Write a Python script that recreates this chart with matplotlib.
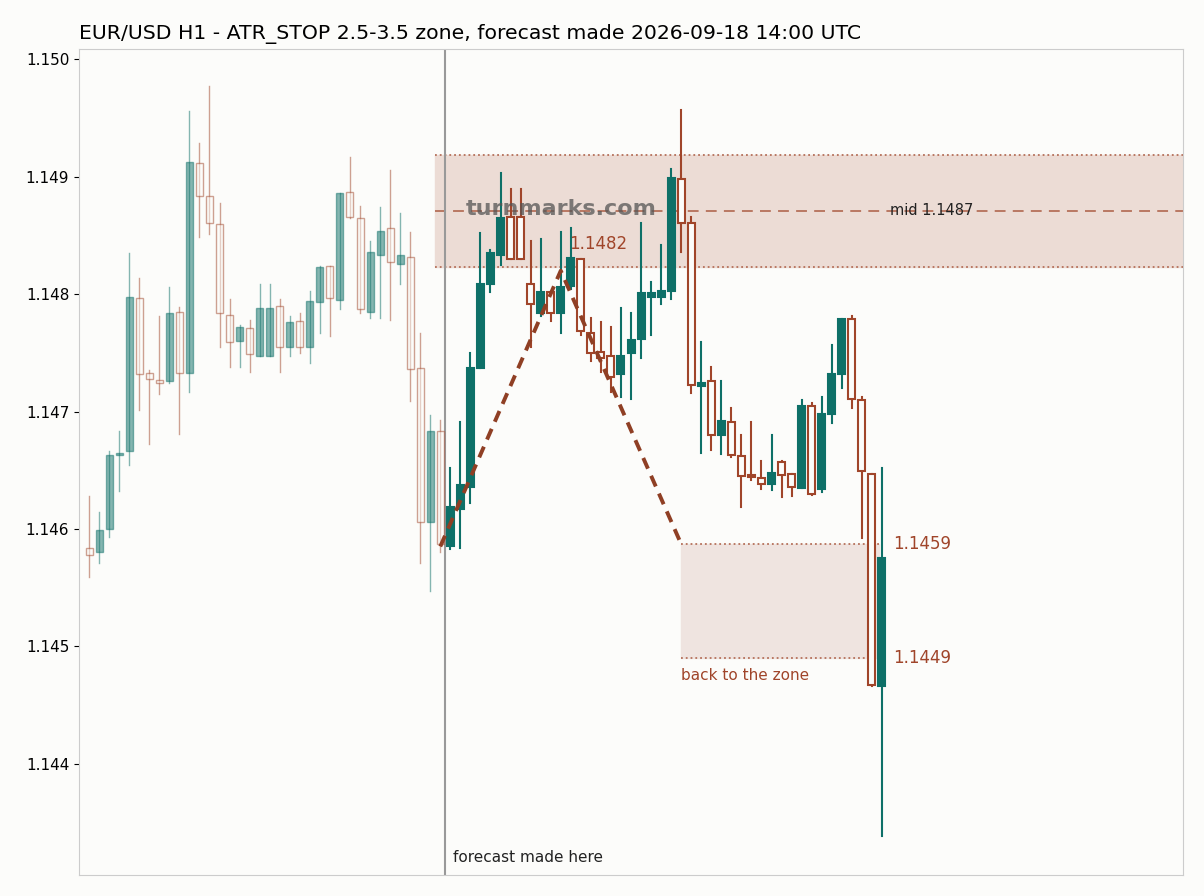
import matplotlib.pyplot as plt
from matplotlib.patches import Rectangle

# =========================
# OHLC (first 36 = history, rest = forecast window)
# =========================
opens = [1.14584, 1.14580, 1.14600, 1.14663, 1.14666, 1.14797, 1.14733, 1.14727, 1.14726, 1.14785,
         1.14733, 1.14912, 1.14884, 1.14860, 1.14782, 1.14760, 1.14771, 1.14747, 1.14747, 1.14790,
         1.14755, 1.14777, 1.14755, 1.14793, 1.14824, 1.14795, 1.14887, 1.14865, 1.14785, 1.14833,
         1.14856, 1.14826, 1.14832, 1.14737, 1.14606, 1.14683,
         1.14585, 1.14617, 1.14636, 1.14737, 1.14809, 1.14833, 1.14866, 1.14866, 1.14809, 1.14784,
         1.14802, 1.14784, 1.14807, 1.14830, 1.14767, 1.14751, 1.14747, 1.14732, 1.14750, 1.14762,
         1.14798, 1.14798, 1.14803, 1.14898, 1.14861, 1.14722, 1.14726, 1.14680, 1.14691, 1.14662,
         1.14646, 1.14643, 1.14638, 1.14657, 1.14647, 1.14635, 1.14705, 1.14634, 1.14698, 1.14732,
         1.14779, 1.14710, 1.14647, 1.14466]
highs = [1.14628, 1.14614, 1.14666, 1.14683, 1.14835, 1.14814, 1.14735, 1.14781, 1.14806, 1.14789,
         1.14956, 1.14929, 1.14977, 1.14878, 1.14796, 1.14774, 1.14778, 1.14809, 1.14809, 1.14796,
         1.14781, 1.14784, 1.14803, 1.14824, 1.14824, 1.14886, 1.14917, 1.14875, 1.14845, 1.14874,
         1.14906, 1.14869, 1.14853, 1.14767, 1.14697, 1.14693,
         1.14652, 1.14691, 1.14750, 1.14852, 1.14838, 1.14903, 1.14890, 1.14890, 1.14845, 1.14847,
         1.14802, 1.14853, 1.14856, 1.14830, 1.14780, 1.14776, 1.14772, 1.14788, 1.14784, 1.14861,
         1.14810, 1.14842, 1.14907, 1.14957, 1.14866, 1.14759, 1.14738, 1.14726, 1.14703, 1.14680,
         1.14691, 1.14658, 1.14680, 1.14658, 1.14647, 1.14710, 1.14707, 1.14712, 1.14757, 1.14779,
         1.14781, 1.14712, 1.14647, 1.14652]
lows = [1.14559, 1.14571, 1.14593, 1.14632, 1.14654, 1.14701, 1.14672, 1.14715, 1.14724, 1.14681,
        1.14717, 1.14849, 1.14851, 1.14755, 1.14738, 1.14738, 1.14734, 1.14747, 1.14747, 1.14734,
        1.14747, 1.14750, 1.14741, 1.14767, 1.14764, 1.14787, 1.14865, 1.14784, 1.14780, 1.14780,
        1.14778, 1.14809, 1.14709, 1.14571, 1.14547, 1.14580,
        1.14583, 1.14584, 1.14622, 1.14737, 1.14802, 1.14825, 1.14830, 1.14830, 1.14755, 1.14781,
        1.14777, 1.14767, 1.14804, 1.14765, 1.14743, 1.14734, 1.14717, 1.14712, 1.14711, 1.14746,
        1.14765, 1.14792, 1.14796, 1.14836, 1.14716, 1.14665, 1.14667, 1.14664, 1.14661, 1.14619,
        1.14642, 1.14634, 1.14633, 1.14627, 1.14628, 1.14635, 1.14629, 1.14631, 1.14690, 1.14720,
        1.14703, 1.14592, 1.14466, 1.14338]
closes = [1.14578, 1.14599, 1.14663, 1.14665, 1.14798, 1.14732, 1.14728, 1.14724, 1.14784, 1.14733,
          1.14913, 1.14884, 1.14861, 1.14784, 1.14759, 1.14772, 1.14749, 1.14788, 1.14788, 1.14755,
          1.14776, 1.14755, 1.14794, 1.14823, 1.14797, 1.14886, 1.14866, 1.14787, 1.14836, 1.14854,
          1.14827, 1.14833, 1.14736, 1.14606, 1.14683, 1.14587,
          1.14619, 1.14637, 1.14737, 1.14809, 1.14835, 1.14865, 1.14830, 1.14830, 1.14792, 1.14802,
          1.14784, 1.14806, 1.14831, 1.14769, 1.14750, 1.14746, 1.14729, 1.14747, 1.14761, 1.14801,
          1.14801, 1.14803, 1.14899, 1.14861, 1.14723, 1.14724, 1.14680, 1.14692, 1.14663, 1.14645,
          1.14644, 1.14638, 1.14648, 1.14646, 1.14636, 1.14705, 1.14630, 1.14698, 1.14732, 1.14779,
          1.14711, 1.14649, 1.14467, 1.14575]

n_hist = 36
zone_lo, zone_hi, zone_mid = 1.14823, 1.14919, 1.14871
back_lo, back_hi = 1.1449, 1.14587
path_idx = [35, 47, 59]
path_px = [1.14585, 1.1482, 1.14587]
yticks = [1.144, 1.145, 1.146, 1.147, 1.148, 1.149, 1.150]

teal = '#0e7068'
rust = '#a0452a'

fig = plt.figure(figsize=(12.04, 8.96), dpi=100, facecolor='#fcfcfa')
ax = fig.add_axes([0.0656, 0.0234, 0.917, 0.922], facecolor='#fcfcfa')

# zones
ax.fill_between([34.5, 109], zone_lo, zone_hi, color='#ecdcd5', zorder=0)
for yy in (zone_lo, zone_hi):
    ax.plot([34.5, 109], [yy, yy], ls=':', color='#b5705a', lw=1.3, zorder=1)
ax.plot([34.5, 109], [zone_mid, zone_mid], ls=(0, (6, 4)), color='#b5705a', lw=1.3, zorder=1)
ax.fill_between([59.0, 78.7], back_lo, back_hi, color='#efe4e0', zorder=0)
for yy in (back_lo, back_hi):
    ax.plot([59.0, 78.7], [yy, yy], ls=':', color='#b5705a', lw=1.3, zorder=1)

# candles
for i in range(len(opens)):
    o, h, l, c = opens[i], highs[i], lows[i], closes[i]
    a = 0.5 if i < n_hist else 1.0
    up = c >= o
    col = teal if up else rust
    lw = 1.0 if i < n_hist else 1.5
    ax.plot([i, i], [l, h], color=col, lw=lw, alpha=a, zorder=2)
    bot, top = min(o, c), max(o, c)
    hgt = max(top - bot, 0.000015)
    face = col if up else '#fcfcfa'
    ax.add_patch(Rectangle((i - 0.35, bot), 0.7, hgt, facecolor=face, edgecolor=col,
                           lw=lw, alpha=a, zorder=3))

# forecast path
ax.plot(path_idx, path_px, ls=(0, (3, 2)), color='#8f3f24', lw=2.8, zorder=4)
ax.axvline(35.5, color='#999999', lw=1.5, zorder=1)

ax.text(47.0, 1.14873, 'turnmarks.com', fontsize=16, fontweight='bold', color='#555555',
        alpha=0.75, ha='center', va='center', zorder=5)
ax.text(47.8, 1.14843, '1.1482', fontsize=12, color=rust, va='center', zorder=5)
ax.text(80.1, back_hi, '1.1459', fontsize=12, color=rust, va='center')
ax.text(80.1, back_lo, '1.1449', fontsize=12, color=rust, va='center')
ax.text(79.8, zone_mid, 'mid 1.1487', fontsize=10.5, color='#222222', va='center')
ax.text(59.0, 1.14475, 'back to the zone', fontsize=11, color=rust, va='center')
ax.text(36.3, 1.14320, 'forecast made here', fontsize=11, color='#222222', va='center')

ax.set_xlim(-1, 109)
ax.set_ylim(1.14305, 1.15009)
ax.set_yticks(yticks)
ax.set_yticklabels([f'{v:.3f}' for v in yticks], fontsize=11)
ax.set_xticks([])
for s in ax.spines.values():
    s.set_color('#cccccc')
ax.set_title('EUR/USD H1 - ATR_STOP 2.5-3.5 zone, forecast made 2026-09-18 14:00 UTC',
             loc='left', fontsize=14.65, pad=7)

fig.savefig('out.png', dpi=100, facecolor=fig.get_facecolor())
